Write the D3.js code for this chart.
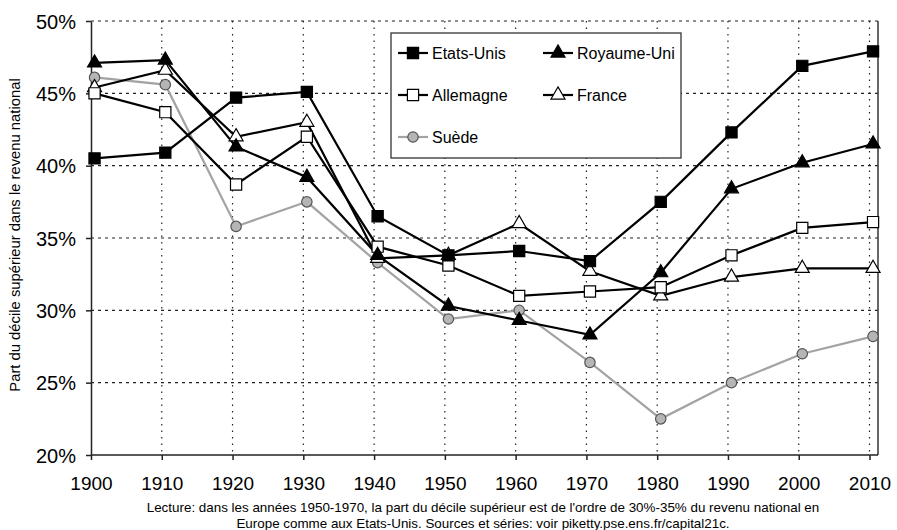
<!DOCTYPE html>
<html>
<head>
<meta charset="utf-8">
<script src="https://cdn.jsdelivr.net/npm/d3@7"></script>
<style>
  body { margin:0; background:#fff; }
  text { font-family: "Liberation Sans", Arial, sans-serif; fill:#000; }
</style>
</head>
<body>
<script>
// data (% of national income)
var years = [1900, 1910, 1920, 1930, 1940, 1950, 1960, 1970, 1980, 1990, 2000, 2010];
var etatsUnis  = [40.5, 40.9, 44.7, 45.1, 36.5, 33.8, 34.1, 33.4, 37.5, 42.3, 46.9, 47.9];
var royaumeUni = [47.1, 47.3, 41.3, 39.2, 33.8, 30.3, 29.3, 28.3, 32.6, 38.4, 40.2, 41.5];
var allemagne  = [45.0, 43.7, 38.7, 42.0, 34.4, 33.1, 31.0, 31.3, 31.6, 33.8, 35.7, 36.1];
var france     = [45.4, 46.6, 42.0, 43.0, 33.6, 33.8, 36.0, 32.7, 31.0, 32.3, 32.9, 32.9];
var suede      = [46.1, 45.6, 35.8, 37.5, 33.3, 29.4, 30.0, 26.4, 22.5, 25.0, 27.0, 28.2];
var yTicks = [20, 25, 30, 35, 40, 45, 50];

var series = [
  {name:'Suède', values:suede, symbol:d3.symbolCircle, size:85, fill:'#b5b5b5', stroke:'#555', line:'#a3a3a3'}
, {name:'France', values:france, symbol:d3.symbolTriangle, size:85, fill:'#fff', stroke:'#000', line:'#000'}
, {name:'Allemagne', values:allemagne, symbol:d3.symbolSquare, size:125, fill:'#fff', stroke:'#000', line:'#000'}
, {name:'Royaume-Uni', values:royaumeUni, symbol:d3.symbolTriangle, size:85, fill:'#000', stroke:'#000', line:'#000'}
, {name:'Etats-Unis', values:etatsUnis, symbol:d3.symbolSquare, size:125, fill:'#000', stroke:'#000', line:'#000'}
];

var params = {width:897, height:530, left:91, right:878, top:21, bottom:455};

var svg = d3.select('body').append('svg')
  .attr('width', params.width)
  .attr('height', params.height);

// grid ticks sit half a year before each point
var x = d3.scaleLinear().domain([1899.5, 2010.7]).range([params.left, params.right]);
var y = d3.scaleLinear().domain([20, 50]).range([params.bottom, params.top]);

var grid = svg.append('g');
grid.selectAll('line.h')
  .data(yTicks.filter(function(d){ return d > 20; }))
  .enter().append('line')
  .attr('x1', params.left).attr('x2', params.right)
  .attr('y1', function(d){ return y(d); }).attr('y2', function(d){ return y(d); })
  .style('stroke', '#222').style('stroke-width', 1.2).style('stroke-dasharray', '3,4');
grid.selectAll('line.v')
  .data(years.slice(1))
  .enter().append('line')
  .attr('x1', function(d){ return x(d - 0.5); }).attr('x2', function(d){ return x(d - 0.5); })
  .attr('y1', params.top).attr('y2', params.bottom)
  .style('stroke', '#222').style('stroke-width', 1.2).style('stroke-dasharray', '1.5,5');

// right border
svg.append('line')
  .attr('x1', params.right).attr('x2', params.right)
  .attr('y1', params.top).attr('y2', params.bottom)
  .style('stroke', '#333').style('stroke-width', 1.5);

// axes
var xAxis = d3.axisBottom(x)
  .tickValues(years.map(function(d){ return d - 0.5; }))
  .tickFormat(function(d){ return d + 0.5; })
  .tickSizeInner(5).tickSizeOuter(0).tickPadding(17);
var gx = svg.append('g').attr('transform', 'translate(0,' + params.bottom + ')').call(xAxis);
gx.select('.domain').attr('d', 'M' + params.left + ',0H' + params.right);

var yAxis = d3.axisLeft(y).tickValues(yTicks)
  .tickFormat(function(d){ return d + '%'; })
  .tickSizeInner(5).tickSizeOuter(0).tickPadding(10);
var gy = svg.append('g').attr('transform', 'translate(' + params.left + ',0)').call(yAxis);

svg.selectAll('.domain, .tick line').style('stroke', '#222').style('stroke-width', 1.5);
gx.selectAll('.tick text').style('font-size', '19px').style('font-family', '"Liberation Sans", Arial, sans-serif');
gy.selectAll('.tick text').style('font-size', '20px').style('font-family', '"Liberation Sans", Arial, sans-serif').attr('dy', '0.36em');

// y title
svg.append('text')
  .attr('transform', 'translate(20,235) rotate(-90)')
  .attr('text-anchor', 'middle')
  .style('font-size', '14.8px')
  .text('Part du décile supérieur dans le revenu national');

// lines and markers
var line = d3.line()
  .x(function(d, i){ return x(years[i]); })
  .y(function(d){ return y(d); });

series.forEach(function(s){
  svg.append('path')
    .attr('d', line(s.values))
    .style('fill', 'none')
    .style('stroke', s.line)
    .style('stroke-width', 2.2);
});
series.forEach(function(s){
  svg.append('g').selectAll('path')
    .data(s.values)
    .enter().append('path')
    .attr('d', d3.symbol().type(s.symbol).size(s.size))
    .attr('transform', function(d, i){ return 'translate(' + x(years[i]) + ',' + y(d) + ')'; })
    .style('fill', s.fill)
    .style('stroke', s.stroke)
    .style('stroke-width', 1.2);
});

// legend
var legend = svg.append('g');
legend.append('rect')
  .attr('x', 391).attr('y', 33).attr('width', 290).attr('height', 125)
  .style('fill', '#fff').style('stroke', '#333').style('stroke-width', 1.3);

var legendOrder = ['Etats-Unis', 'Royaume-Uni', 'Allemagne', 'France', 'Suède'];
legendOrder.forEach(function(name, i){
  var s = series.filter(function(d){ return d.name === name; })[0];
  var lx = 398 + (i % 2) * 145;
  var ly = 53 + Math.floor(i / 2) * 42;
  var item = legend.append('g').attr('transform', 'translate(' + lx + ',' + ly + ')');
  item.append('line').attr('x1', 0).attr('x2', 30).attr('y1', 0).attr('y2', 0)
    .style('stroke', s.line).style('stroke-width', 2.2);
  item.append('path').attr('d', d3.symbol().type(s.symbol).size(s.size))
    .attr('transform', 'translate(15,0)')
    .style('fill', s.fill).style('stroke', s.stroke).style('stroke-width', 1.2);
  item.append('text').attr('x', 34).attr('dy', '0.36em')
    .style('font-size', '16px').text(name);
});

// footnote
var notes = [
  "Lecture: dans les années 1950-1970, la part du décile supérieur est de l'ordre de 30%-35% du revenu national en",
  "Europe comme aux Etats-Unis. Sources et séries: voir piketty.pse.ens.fr/capital21c."
];
svg.selectAll('text.note')
  .data(notes)
  .enter().append('text')
  .attr('class', 'note')
  .attr('x', 483)
  .attr('y', function(d, i){ return 512 + i * 16; })
  .attr('text-anchor', 'middle')
  .style('font-size', '13.4px')
  .text(function(d){ return d; });
</script>
</body>
</html>
